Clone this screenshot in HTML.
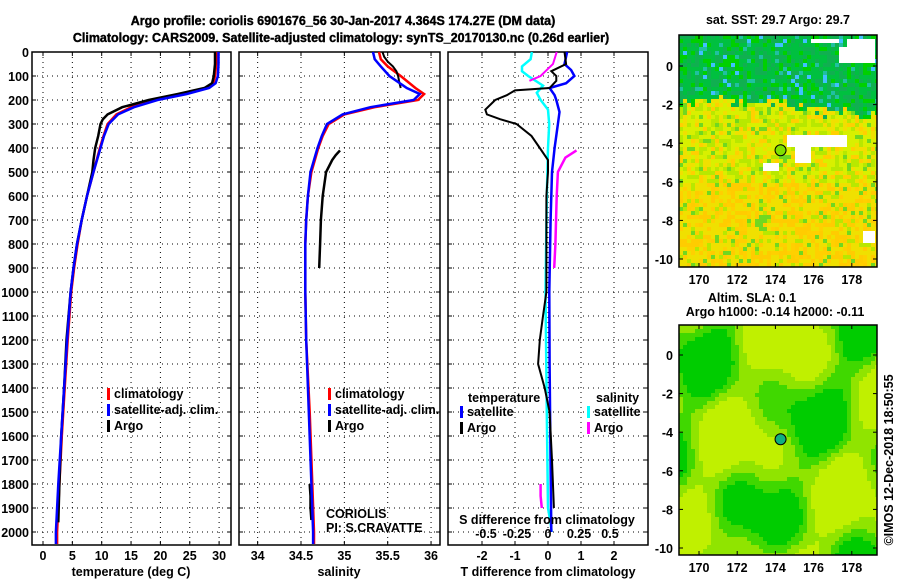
<!DOCTYPE html>
<html><head><meta charset="utf-8"><style>
body{margin:0;background:#fff;width:900px;height:580px;overflow:hidden}
svg text{font-family:"Liberation Sans",sans-serif;font-weight:bold;font-size:12.5px;fill:#000}
</style></head><body>
<svg id="c" width="900" height="580" xmlns="http://www.w3.org/2000/svg"></svg>
<script>
// ---- data ----
const tDepth=[0,50,100,130,150,175,200,230,260,300,350,400,500,600,700,800,900,1000,1200,1400,1600,1800,2000,2050];
const tClim=[29.5,29.5,29.3,29,28,24,19,15,12.5,11,10.3,9.7,8.6,7.5,6.6,5.9,5.3,4.8,4.2,3.7,3.2,2.8,2.4,2.4];
const tSat=[29.9,29.9,29.8,29.4,28.3,24.5,19.5,15.5,12.8,11.2,10.4,9.8,8.6,7.5,6.6,5.8,5.2,4.7,4.1,3.6,3.1,2.6,2.2,2.2];
const tArgoDepth=[0,50,100,130,150,175,200,230,260,280,300,350,400,450,500,600,700,800,900,1000,1200,1400,1600,1800,1960];
const tArgo=[29.3,29.3,29.1,28.8,27.5,23,18,13.5,11,10.2,9.8,9.4,8.9,8.6,8.4,7.5,6.6,5.8,5.2,4.7,4.0,3.6,3.1,2.8,2.6];
const sDepth=[0,30,60,100,150,175,200,230,260,300,350,400,500,600,700,800,1000,1200,1500,1800,2000,2050];
const sClim=[35.4,35.42,35.5,35.65,35.82,35.92,35.85,35.35,35.0,34.82,34.75,34.7,34.62,34.58,34.56,34.55,34.55,34.56,34.6,34.63,34.65,34.65];
const sSat=[35.33,35.35,35.42,35.52,35.72,35.87,35.8,35.3,34.98,34.8,34.74,34.69,34.61,34.58,34.56,34.55,34.55,34.56,34.59,34.62,34.64,34.64];
const sArgoDepth=[0,20,40,60,80,100,120,150];
const sArgo=[35.44,35.46,35.5,35.56,35.6,35.62,35.63,35.65];
const sArgoDepth2=[410,430,450,500,600,700,800,900];
const sArgo2=[34.95,34.9,34.86,34.79,34.75,34.73,34.72,34.71];
const sArgoDepth3=[1800,1850,1900,1950];
const sArgo3=[34.6,34.61,34.61,34.62];
const dDepth=[0,50,75,100,130,150,180,200,250,300,400,500,700,1000,1300,1600,2000];
const dTSat=[0.58,0.5,0.7,0.8,0.55,0.05,0.2,0.25,0.35,0.3,0.2,0.12,0.08,0.04,0.05,0.07,0.1];
const dArgoDepth=[0,50,80,100,120,150,160,180,200,240,260,280,300,350,400,450,500,600,800,1000,1100,1200,1300,1400,1500,1700,1900];
const dTArgo=[0.5,0.55,0.1,0.25,0.25,0.05,-1,-1.25,-1.6,-1.9,-1.85,-1.45,-0.95,-0.5,-0.25,0,0,-0.05,-0.05,-0.05,-0.15,-0.25,-0.3,-0.1,0.05,0.12,0.18];
const dSArgoDepth=[0,50,80,100,120];
const dSArgo=[0.07,0.04,-0.02,-0.06,-0.15];
const dSArgoDepth2=[410,440,500,600,800,900];
const dSArgo2=[0.23,0.14,0.08,0.07,0.06,0.05];
const dSArgoDepth3=[1800,1850,1900];
const dSArgo3=[-0.06,-0.06,-0.05];
const dSSatDepth=[0,30,60,80,100,140,170,200,240,300,400,600,1000,1500,1900,1960,2000];
const dSSat=[-0.13,-0.14,-0.21,-0.21,-0.16,-0.04,-0.09,-0.06,0,0.01,0,-0.01,-0.02,-0.01,0,0.02,0.03];
const depthTicks=[0,100,200,300,400,500,600,700,800,900,1000,1100,1200,1300,1400,1500,1600,1700,1800,1900,2000];
const tTicks=[0,5,10,15,20,25,30];
const sTicks=[34,34.5,35,35.5,36];
const sTickLabels=["34","34.5","35","35.5","36"];
const dTTicks=[-2,-1,0,1,2];
const dSTicks=[-0.5,-0.25,0,0.25,0.5];
const dSTickLabels=["-0.5","-0.25","0","0.25","0.5"];
const lonTicks=[170,172,174,176,178];
const latTicks=[0,-2,-4,-6,-8,-10];

// ---- helpers ----
const S=document.getElementById('c');const NS="http://www.w3.org/2000/svg";
function el(t,a,p){const e=document.createElementNS(NS,t);for(const k in a)e.setAttribute(k,a[k]);(p||S).appendChild(e);return e;}
function txt(x,y,s,anchor,extra){const e=el('text',Object.assign({x:x,y:y,'text-anchor':anchor||'start'},extra||{}));e.textContent=s;return e;}
const Y=d=>52+d*0.24;
const TOP=52,BOT=545;
const xT=v=>43+v*5.87, xS=v=>301+(v-34.5)*86.7, xD=v=>548+v*33, xDS=v=>548+v*124;
function panel(x0,x1,name){
  const g=el('g',{});
  el('rect',{x:x0,y:TOP,width:x1-x0,height:BOT-TOP,fill:'#fff',stroke:'#000','stroke-width':1.5},g);
  depthTicks.forEach(d=>{el('line',{x1:x0,x2:x1,y1:Y(d),y2:Y(d),stroke:'#000','stroke-dasharray':'1,4'},g);
    el('line',{x1:x0,x2:x0+4,y1:Y(d),y2:Y(d),stroke:'#000'},g);el('line',{x1:x1-4,x2:x1,y1:Y(d),y2:Y(d),stroke:'#000'},g);});
  return g;
}
function vgrid(g,ticks,fx){ticks.forEach(v=>{const x=fx(v);el('line',{x1:x,x2:x,y1:TOP,y2:BOT,stroke:'#000','stroke-dasharray':'1,4'},g);
  el('line',{x1:x,x2:x,y1:BOT-4,y2:BOT,stroke:'#000'},g);el('line',{x1:x,x2:x,y1:TOP,y2:TOP+4,stroke:'#000'},g);});}
function line(g,ds,vs,fx,col,name,w){const p=el('polyline',{points:ds.map((d,i)=>fx(vs[i]).toFixed(1)+','+Y(d).toFixed(1)).join(' '),fill:'none',stroke:col,'stroke-width':w||2.5},g);
  }
function legend(g,x,y,items){items.forEach((it,i)=>{el('rect',{x:x,y:y+i*16-10,width:3,height:12,fill:it[0]},g);txt(x+7,y+i*16,it[1]);});}

// titles
let t1=txt(343,25,'Argo profile: coriolis 6901676_56 30-Jan-2017 4.364S 174.27E (DM data)','middle',{'font-size':'15px','font-weight':'normal','stroke':'#000','stroke-width':'0.4'});

let t2=txt(341,42,'Climatology: CARS2009. Satellite-adjusted climatology: synTS_20170130.nc (0.26d earlier)','middle',{'font-size':'15px','font-weight':'normal','stroke':'#000','stroke-width':'0.4'});


// depth labels
depthTicks.forEach(d=>{const e=txt(29,Y(d)+5,String(d),'end');});

// panel 1
const p1=panel(32,231,'temperature-panel');vgrid(p1,tTicks,xT);
tTicks.forEach(v=>txt(xT(v),560,String(v),'middle'));
txt(131,576,'temperature (deg C)','middle',{'font-size':'13px'});
line(p1,tDepth,tClim,xT,'#ff0000','temperature-climatology-line');
line(p1,tArgoDepth,tArgo,xT,'#000','temperature-argo-line');
line(p1,tDepth,tSat,xT,'#0000ff','temperature-satellite-line');
legend(p1,107,398,[['#f00','climatology'],['#00f','satellite-adj. clim.'],['#000','Argo']]);

// panel 2
const p2=panel(239,440,'salinity-panel');vgrid(p2,sTicks,xS);
sTicks.forEach((v,i)=>txt(xS(v),560,sTickLabels[i],'middle'));
txt(339,576,'salinity','middle',{'font-size':'13px'});
line(p2,sDepth,sClim,xS,'#ff0000','salinity-climatology-line');
line(p2,sArgoDepth,sArgo,xS,'#000','salinity-argo-line-upper',2);
line(p2,sArgoDepth2,sArgo2,xS,'#000','salinity-argo-line-mid');
line(p2,sArgoDepth3,sArgo3,xS,'#000','salinity-argo-line-deep');
line(p2,sDepth,sSat,xS,'#0000ff','salinity-satellite-line');
legend(p2,328,398,[['#f00','climatology'],['#00f','satellite-adj. clim.'],['#000','Argo']]);
txt(326,518,'CORIOLIS','start',{'font-weight':'normal','font-size':'12px'});
txt(326,532,'PI: S.CRAVATTE','start',{'font-weight':'normal','font-size':'12px'});

// panel 3
const p3=panel(448,648,'difference-panel');vgrid(p3,dTTicks,xD);
dTTicks.forEach(v=>txt(xD(v),560,String(v),'middle'));
txt(548,576,'T difference from climatology','middle',{'font-size':'13px'});
line(p3,dSSatDepth,dSSat,xDS,'#00ffff','salinity-satellite-diff-line');
line(p3,dSArgoDepth,dSArgo,xDS,'#ff00ff','salinity-argo-diff-upper',2);
line(p3,dSArgoDepth2,dSArgo2,xDS,'#ff00ff','salinity-argo-diff-mid');
line(p3,dSArgoDepth3,dSArgo3,xDS,'#ff00ff','salinity-argo-diff-deep');
line(p3,dDepth,dTSat,xD,'#0000ff','temperature-satellite-diff-line');
line(p3,dArgoDepth,dTArgo,xD,'#000','temperature-argo-diff-line',2);
txt(468,402,'temperature');txt(596,402,'salinity');
legend(p3,460,416,[['#00f','satellite'],['#000','Argo']]);
legend(p3,587,416,[['#0ff','satellite'],['#f0f','Argo']]);
txt(547,524,'S difference from climatology','middle',{'font-size':'13px'});
dSTicks.forEach((v,i)=>txt(xDS(v),538,dSTickLabels[i],'middle'));

// maps
function hash(i,j,s){let h=(i*374761393+j*668265263+s*982451653)|0;h=(h^(h>>>13))*1274126177|0;return ((h^(h>>>16))>>>0)/4294967296;}
const whites=[[787,132,847,145],[795,145,808,160],[763,160,777,168],[810,37,837,43],[845,38,875,60],[860,228,875,242],[838,47,848,60]];
function map(x0,y0,x1,y1,lat0y,name,kind){
  const g=el('g',{});
  const cs=4;
  for(let yy=y0;yy<y1;yy+=cs)for(let xx=x0;xx<x1;xx+=cs){
    const i=(xx-x0)/cs|0,j=(yy-y0)/cs|0,r=hash(i,j,kind),r2=hash(j,i,7);let c;
    if(kind==1){
      const bnd=(xx>785?103+(xx-785)*0.15:100)+(r2-0.5)*14;
      if(yy<bnd){c=r<0.45?'#00c040':r<0.72?'#10b050':r<0.88?'#00d000':r<0.95?'#20c0a0':'#40c0ff';}
      else{c=r<0.35?'#d8f000':r<0.6?'#b8e800':r<0.78?'#f0e000':r<0.92?'#ffd000':'#70d820';
        if(yy>180&&r<0.5)c=r<0.25?'#f0e000':'#ffcc00';}
      for(const w of whites)if(xx>=w[0]&&xx<w[2]&&yy>=w[1]&&yy<w[3])c='#fff';
    }else{
      const v=Math.sin(xx/23+yy/41)+Math.cos(yy/19-xx/37)+0.5*Math.sin(xx/11+yy/29);
      c=v>0.8?'#00cc00':v>0.2?'#40d800':v>-0.5?'#90e400':'#c0f000';
    }
    el('rect',{x:xx,y:yy,width:Math.min(cs,x1-xx),height:Math.min(cs,y1-yy),fill:c},g);
  }
  el('rect',{x:x0,y:y0,width:x1-x0,height:y1-y0,fill:'none',stroke:'#000','stroke-width':1.5},g);
  const xl=v=>699+(v-170)*19.1;
  lonTicks.forEach(v=>{el('line',{x1:xl(v),x2:xl(v),y1:y1-4,y2:y1,stroke:'#000'},g);el('line',{x1:xl(v),x2:xl(v),y1:y0,y2:y0+4,stroke:'#000'},g);txt(xl(v),y1+17,String(v),'middle');});
  latTicks.forEach(v=>{const y=lat0y-v*19.3;el('line',{x1:x0,x2:x0+4,y1:y,y2:y,stroke:'#000'},g);el('line',{x1:x1-4,x2:x1,y1:y,y2:y,stroke:'#000'},g);txt(x0-6,y+5,String(v),'end');});
  const c=el('circle',{cx:xl(174.27),cy:lat0y+4.364*19.3,r:5.5,fill:kind==1?'#80e000':'#10b080',stroke:'#000','stroke-width':1},g);
  
}
map(679,35,877,267,66,'sst-map',1);
map(679,325,877,555,355,'sla-map',2);
txt(778,24,'sat. SST: 29.7 Argo: 29.7','middle');
txt(752,302,'Altim. SLA: 0.1','middle');
txt(775,316,'Argo h1000: -0.14 h2000: -0.11','middle');
const cr=txt(0,0,'©IMOS 12-Dec-2018 18:50:55','middle',{transform:'translate(893,460) rotate(-90)','font-weight':'normal','font-size':'12px'});

</script>
</body></html>
